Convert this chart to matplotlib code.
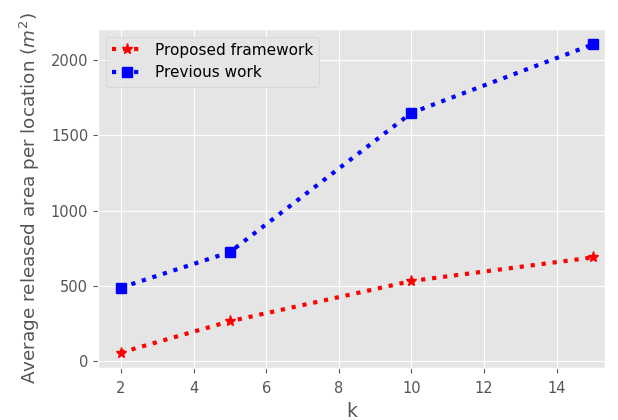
import matplotlib
matplotlib.use("Agg")
import matplotlib.pyplot as plt

plt.style.use("ggplot")

k_values = [2, 5, 10, 15]
proposed = [55, 263, 531, 688]
previous = [487, 723, 1650, 2106]

fig = plt.figure(figsize=(6.18, 4.2), dpi=100)
ax = fig.add_axes([98 / 618, 1 - 368 / 420, (605 - 98) / 618, (368 - 29) / 420])

ax.plot(k_values, proposed, color="red", linestyle=":", linewidth=3,
        marker="*", markersize=8, label="Proposed framework")
ax.plot(k_values, previous, color="blue", linestyle=":", linewidth=3,
        marker="s", markersize=7, label="Previous work")

ax.set_xlim(1.37, 15.33)
ax.set_ylim(-48, 2208)
ax.set_xticks([2, 4, 6, 8, 10, 12, 14])
ax.set_yticks([0, 500, 1000, 1500, 2000])
ax.tick_params(labelsize=10.5)
ax.tick_params(axis="x", pad=6)
ax.set_xlabel("k", fontsize=13.5, labelpad=4)
ax.set_ylabel("Average released area per location ($m^2$)", fontsize=13.2, labelpad=6)
ax.legend(loc="upper left", fontsize=11, handlelength=2.0)

fig.savefig("out.png", dpi=100)
